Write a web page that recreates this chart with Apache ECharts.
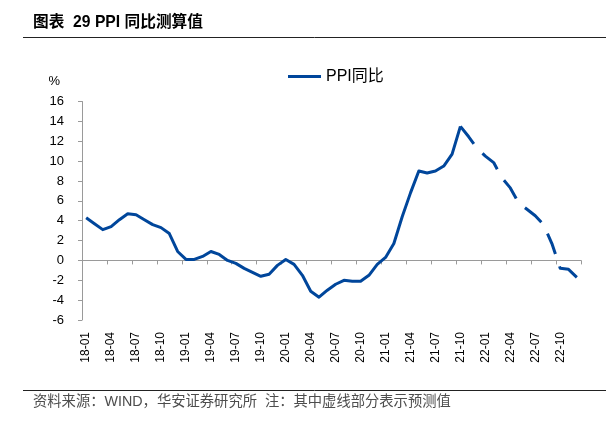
<!DOCTYPE html>
<html>
<head>
<meta charset="utf-8">
<script src="https://cdn.jsdelivr.net/npm/echarts@6/dist/echarts.min.js"></script>
<style>
html,body{margin:0;padding:0;background:#fff;}
#chart{width:616px;height:433px;}
</style>
</head>
<body>
<div id="chart"></div>
<script>
// ---- data ----
var categories = [
  '18-01','18-02','18-03','18-04','18-05','18-06','18-07','18-08','18-09','18-10','18-11','18-12',
  '19-01','19-02','19-03','19-04','19-05','19-06','19-07','19-08','19-09','19-10','19-11','19-12',
  '20-01','20-02','20-03','20-04','20-05','20-06','20-07','20-08','20-09','20-10','20-11','20-12',
  '21-01','21-02','21-03','21-04','21-05','21-06','21-07','21-08','21-09','21-10','21-11','21-12',
  '22-01','22-02','22-03','22-04','22-05','22-06','22-07','22-08','22-09','22-10','22-11','22-12'
];
// actual PPI yoy, 18-01 .. 21-10
var actualValues = [
  4.3, 3.7, 3.1, 3.4, 4.1, 4.7, 4.6, 4.1, 3.6, 3.3, 2.7, 0.9,
  0.1, 0.1, 0.4, 0.9, 0.6, 0.0, -0.3, -0.8, -1.2, -1.6, -1.4, -0.5,
  0.1, -0.4, -1.5, -3.1, -3.7, -3.0, -2.4, -2.0, -2.1, -2.1, -1.5, -0.4,
  0.3, 1.7, 4.4, 6.8, 9.0, 8.8, 9.0, 9.5, 10.7, 13.5
];
// forecast (dashed), 21-11 .. 22-12
var forecastValues = [12.45, 11.3, 10.5, 9.85, 8.3, 7.3, 5.8, 5.15, 4.5, 3.6, 1.7, -0.8, -0.9, -1.7];

var yMin = -6, yMax = 16, yStep = 2;
var titleText = '图表  29 PPI 同比测算值';
var sourceText = '资料来源：WIND，华安证券研究所  注：其中虚线部分表示预测值';
var seriesName = 'PPI同比';

// ---- build series arrays ----
var solidData = [], dashData = [];
for (var i = 0; i < categories.length; i++) {
  if (i < actualValues.length) solidData.push(actualValues[i]); else solidData.push(null);
  if (i === actualValues.length - 1) dashData.push(actualValues[i]);
  else if (i >= actualValues.length) dashData.push(forecastValues[i - actualValues.length]);
  else dashData.push(null);
}

var FONT = "'Liberation Sans', Arial, 'Noto Sans CJK SC', sans-serif";
var LINE_COLOR = '#00469b';
var AXIS_COLOR = '#9a9a9a';

var chart = echarts.init(document.getElementById('chart'), null, {renderer: 'canvas'});
chart.setOption({
  animation: false,
  backgroundColor: '#fff',
  textStyle: {fontFamily: FONT},
  title: [
    {text: titleText, left: 33, top: 15, padding: 0,
     textStyle: {fontSize: 15.7, fontWeight: 'bold', color: '#000', fontFamily: FONT}},
    {text: sourceText, left: 33, top: 395, padding: 0,
     textStyle: {fontSize: 14.3, fontWeight: 'normal', color: '#4d4d4d', fontFamily: FONT}}
  ],
  graphic: [
    {type: 'line', shape: {x1: 23, y1: 37.5, x2: 606, y2: 37.5}, style: {stroke: '#222', lineWidth: 1}},
    {type: 'line', shape: {x1: 23, y1: 390.5, x2: 606, y2: 390.5}, style: {stroke: '#222', lineWidth: 1}}
  ],
  legend: {
    data: [seriesName], left: 288, top: 68.5, padding: 0,
    icon: 'rect', itemWidth: 33, itemHeight: 3,
    textStyle: {fontSize: 16, color: '#000', fontFamily: FONT}
  },
  grid: {left: 82, right: 35, top: 101.5, bottom: 113, containLabel: false},
  xAxis: [
    {
      type: 'category', data: categories, position: 'bottom', boundaryGap: true,
      axisLine: {show: false, onZero: false},
      axisTick: {show: false},
      axisLabel: {rotate: 90, interval: 2, fontSize: 12, margin: 12, color: '#000', fontFamily: FONT},
      splitLine: {show: false}
    },
    {
      type: 'category', data: categories, position: 'top', boundaryGap: true,
      axisLine: {show: true, onZero: true, lineStyle: {color: AXIS_COLOR, width: 1}},
      axisTick: {show: true, interval: 2, inside: true, length: 4, lineStyle: {color: AXIS_COLOR}},
      axisLabel: {show: false},
      splitLine: {show: false}
    }
  ],
  yAxis: {
    type: 'value', min: yMin, max: yMax, interval: yStep,
    name: '%', nameLocation: 'end', nameGap: 14,
    nameTextStyle: {fontSize: 13, color: '#000', align: 'right', padding: [0, 22, 0, 0], fontFamily: FONT},
    axisLine: {show: true, lineStyle: {color: AXIS_COLOR, width: 1}},
    axisTick: {show: true, length: 4, lineStyle: {color: AXIS_COLOR}},
    axisLabel: {fontSize: 13, margin: 18, color: '#000', fontFamily: FONT},
    splitLine: {show: false}
  },
  series: [
    {
      name: seriesName, type: 'line', data: solidData, xAxisIndex: 0,
      symbol: 'none', connectNulls: false,
      itemStyle: {color: LINE_COLOR},
      lineStyle: {color: LINE_COLOR, width: 3, type: 'solid', join: 'round'}
    },
    {
      name: seriesName, type: 'line', data: dashData, xAxisIndex: 0,
      symbol: 'none', connectNulls: false,
      itemStyle: {color: LINE_COLOR},
      lineStyle: {color: LINE_COLOR, width: 3, type: [22, 13], cap: 'butt', join: 'round'}
    }
  ]
});
</script>
</body>
</html>
